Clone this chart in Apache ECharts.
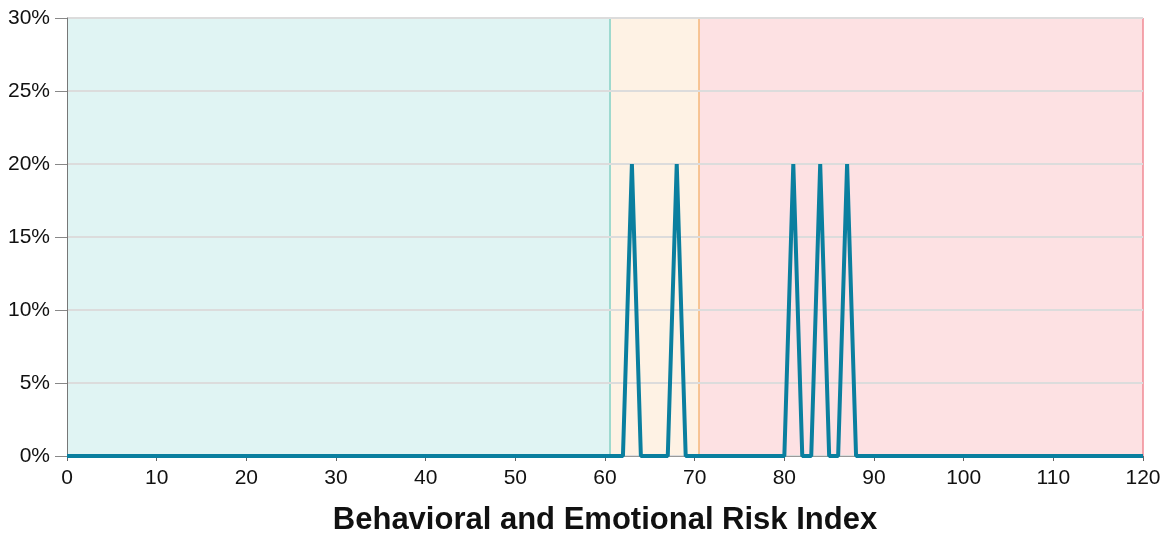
<!DOCTYPE html>
<html><head><meta charset="utf-8">
<script src="https://cdn.jsdelivr.net/npm/echarts@6/dist/echarts.min.js"></script>
<style>html,body{margin:0;padding:0;background:#fff}#c{width:1169px;height:541px}</style>
</head><body><div id="c"></div>
<script>
// Risk index values (x) and percentage of responses (y)
const xValues = [];
for (let i = 0; i <= 120; i++) xValues.push(i);
const peakIndices = [63, 68, 81, 84, 87];
const peakValues = [20, 20, 20, 20, 20];
const yTickLabels = ['0%', '5%', '10%', '15%', '20%', '25%', '30%'];
const bands = [
  { from: 0, to: 60.5, fill: '#e0f4f3', edge: '#7fd0c6' },
  { from: 60.5, to: 70.5, fill: '#fef2e4', edge: '#f5b77a' },
  { from: 70.5, to: 120, fill: '#fde1e3', edge: '#f08a94' }
];
const xTitle = 'Behavioral and Emotional Risk Index';

const seriesData = xValues.map(x => {
  const k = peakIndices.indexOf(x);
  return [x, k >= 0 ? peakValues[k] : 0];
});

const chart = echarts.init(document.getElementById('c'), null, { renderer: 'canvas' });
chart.setOption({
  animation: false,
  grid: { left: 67, right: 26, top: 18, bottom: 82 },
  xAxis: {
    type: 'value', min: 0, max: 120, interval: 10, z: 3,
    name: xTitle, nameLocation: 'middle', nameGap: 49,
    nameTextStyle: { fontFamily: 'Liberation Sans', fontSize: 31, color: '#111', fontWeight: 'bold' },
    axisLine: { show: true, lineStyle: { color: '#999', width: 1 } },
    axisTick: { show: true, length: 5, lineStyle: { color: '#666' } },
    axisLabel: { fontFamily: 'Liberation Sans', fontSize: 21, color: '#111', margin: 12 },
    splitLine: { show: false }
  },
  yAxis: {
    type: 'value', min: 0, max: 30, interval: 5, z: 3,
    axisLine: { show: true, lineStyle: { color: '#777', width: 1 } },
    axisTick: { show: true, length: 12, lineStyle: { color: '#888' } },
    axisLabel: { fontFamily: 'Liberation Sans', fontSize: 21, color: '#111', margin: 17,
      formatter: v => yTickLabels[Math.round(v / 5)] },
    splitLine: { show: true, lineStyle: { color: '#dcdcdc', width: 2 } }
  },
  series: [{
    type: 'line',
    data: [],
    z: 1,
    silent: true,
    markArea: {
      silent: true, z: 1,
      data: bands.map(b => [{ xAxis: b.from, itemStyle: { color: b.fill } }, { xAxis: b.to }])
    }
  }, {
    type: 'line',
    data: [],
    z: 2,
    silent: true,
    markLine: {
      silent: true, symbol: 'none', label: { show: false }, z: 2,
      data: bands.map(b => ({ xAxis: b.to, lineStyle: { color: b.edge, width: 1.5, type: 'solid' } }))
    }
  }, {
    type: 'line',
    data: seriesData,
    showSymbol: false,
    lineStyle: { color: '#0a7f9f', width: 4 },
    z: 5
  }]
});
</script></body></html>
